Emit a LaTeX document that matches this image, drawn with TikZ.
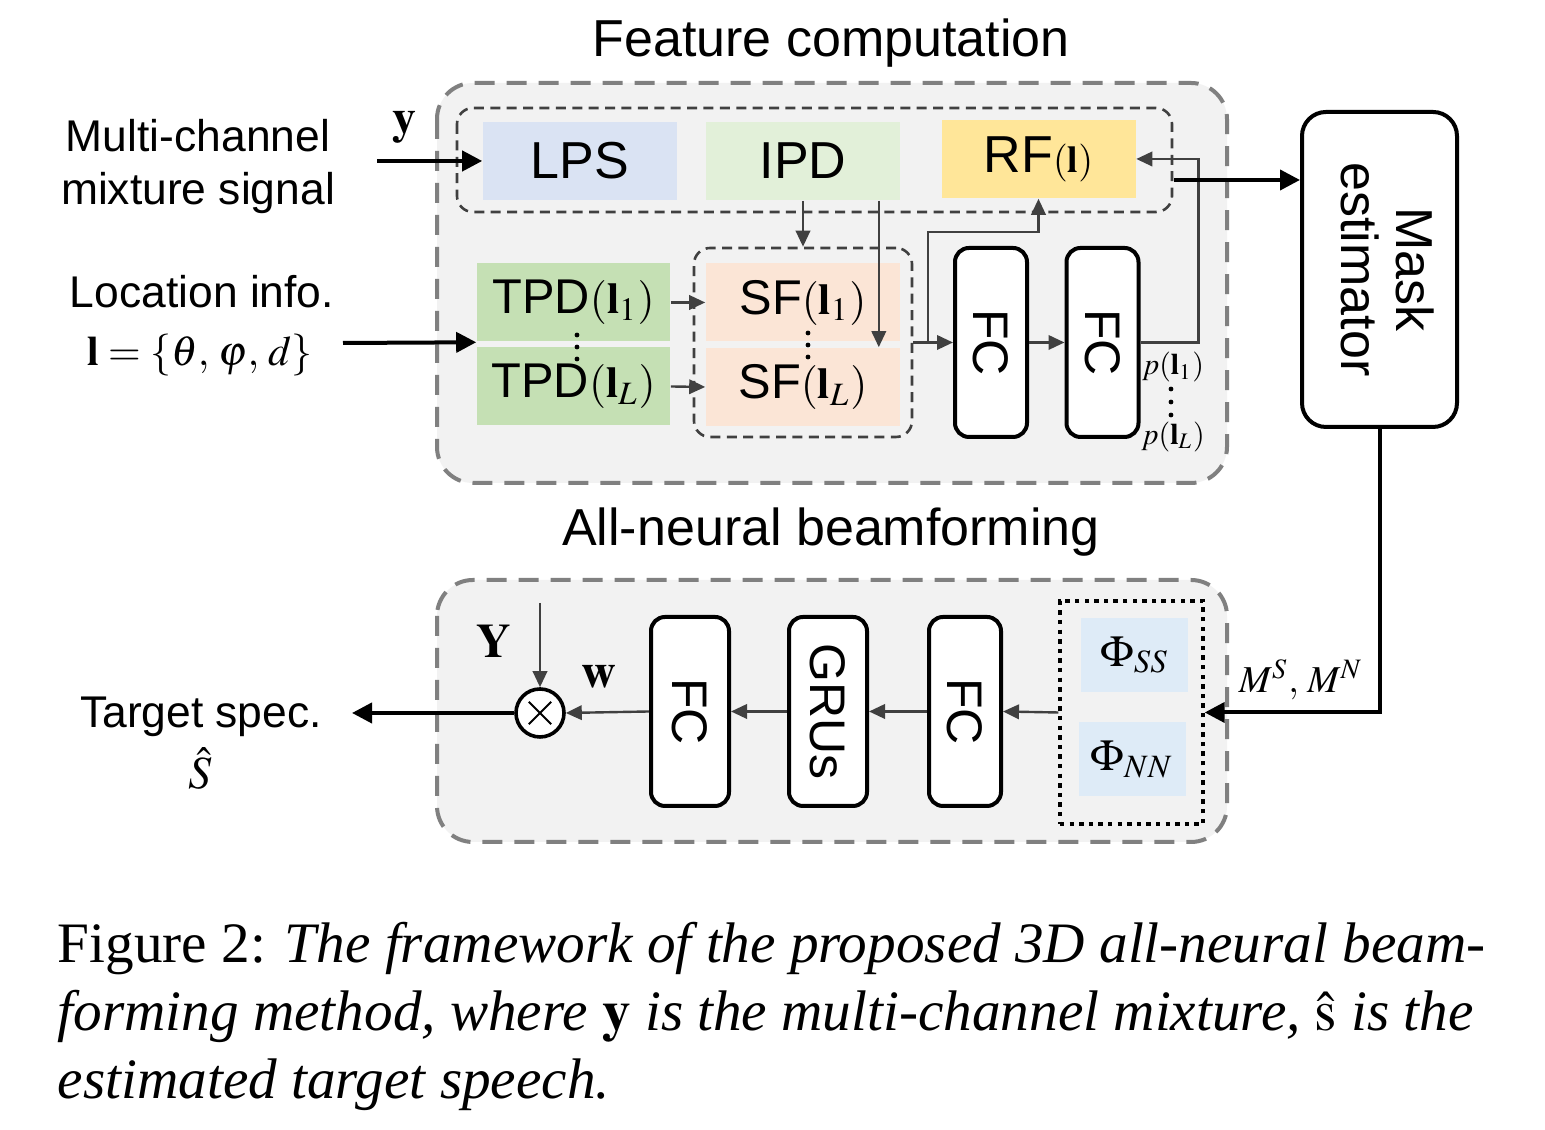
\documentclass[tikz,border=0pt]{standalone}
\usepackage{mathptmx}
\usepackage[no-math]{fontspec}
\setmainfont{Liberation Serif}
\setsansfont{Liberation Sans}
\usetikzlibrary{arrows.meta}
\definecolor{bggray}{HTML}{F2F2F2}
\definecolor{dashgray}{HTML}{808080}
\definecolor{darkline}{HTML}{404040}
\definecolor{lpsblue}{HTML}{DAE3F3}
\definecolor{ipdgreen}{HTML}{E2F0D9}
\definecolor{rfyellow}{HTML}{FFE699}
\definecolor{tpdgreen}{HTML}{C5E0B4}
\definecolor{sforange}{HTML}{FBE5D6}
\definecolor{phiblue}{HTML}{DEEBF7}
\newcommand{\fs}[2]{\fontsize{#1}{#2}\selectfont}
\newcommand{\locarg}[1]{{\fs{11}{13}$(\mathbf{l}_{#1})$}}
\begin{document}
\begin{tikzpicture}[x=0.25pt,y=-0.25pt,
  title/.style={anchor=base,inner sep=0pt,font=\sffamily\fs{13}{15.6}},
  side/.style={anchor=base,inner sep=0pt,font=\sffamily\fs{11.1}{13.3}},
  feat/.style={inner sep=0pt,minimum width=48.5pt,minimum height=19.5pt,font=\sffamily\fs{13}{15.6}},
  loc/.style={inner sep=0pt,minimum width=48.25pt,minimum height=19.5pt,font=\sffamily\fs{12.2}{14.6}},
  netbox/.style={draw=black,line width=1pt,fill=white,rounded corners=3.5pt,inner sep=0pt,minimum width=18pt,minimum height=47.25pt,font=\sffamily\fs{12.5}{15}},
  phibox/.style={fill=phiblue,inner sep=0pt,minimum width=26.75pt,minimum height=18.5pt,font=\fs{11}{13}},
  outerbox/.style={draw=dashgray,fill=bggray,line width=1pt,dash pattern=on 5pt off 3pt,rounded corners=9pt},
  innerbox/.style={draw=darkline,line width=0.65pt,dash pattern=on 2.5pt off 1.6pt,rounded corners=4pt},
  thinarr/.style={draw=darkline,line width=0.6pt,-{Triangle[length=4pt,width=3.6pt]}},
  thickarr/.style={draw=black,line width=1pt,-{Triangle[length=5pt,width=5pt]}},
  mathlbl/.style={inner sep=0pt,font=\fs{12}{14}},
  plbl/.style={inner sep=0pt,font=\fs{7.5}{9}}]
\fill[white] (0,0) rectangle (1545,1130);
\useasboundingbox (0,0) rectangle (1545,1130);
% Drawing frames
\draw[outerbox] (437,83) rectangle (1227,483);
\draw[outerbox] (437,580) rectangle (1227,842);
\draw[innerbox] (457,108) rectangle (1172,212);
\node[innerbox,inner sep=0pt,minimum width=54.5pt,minimum height=47.25pt] (sfbox) at (803,342.5) {};
\node[title] (featitle) at (831,57) {Feature computation};
\node[title] (bftitle) at (831,546) {All-neural beamforming};
% Done with frames; drawing feature blocks
\node[feat,fill=lpsblue] (lps) at (580,161) {LPS};
\node[feat,fill=ipdgreen] (ipd) at (803,161) {IPD};
\node[feat,fill=rfyellow] (rf) at (1038.5,159) {RF{\fs{9.5}{11}$(\mathbf{l})$}};
\node[loc,fill=tpdgreen] (tpd1) at (573.5,302.5) {TPD\locarg{1}};
\node[loc,fill=tpdgreen] (tpdL) at (573.5,386.5) {TPD\locarg{L}};
\node[loc,fill=sforange,minimum width=48.5pt] (sf1) at (803,302.5) {SF\locarg{1}};
\node[loc,fill=sforange,minimum width=48.5pt] (sfL) at (803,387) {SF\locarg{L}};
\fill (577,335) circle (0.6pt) (577,347) circle (0.6pt) (577,359) circle (0.6pt);
\fill (808,333) circle (0.6pt) (808,345) circle (0.6pt) (808,357) circle (0.6pt);
\node[netbox] (fc1) at (991,342.5) {\rotatebox{-90}{FC}};
\node[netbox] (fc2) at (1102.5,342.5) {\rotatebox{-90}{FC}};
\node[plbl] (p1) at (1173,367) {$p(\mathbf{l}_1)$};
\node[plbl] (pL) at (1173,437) {$p(\mathbf{l}_L)$};
\fill (1171,389) circle (0.6pt) (1171,402) circle (0.6pt) (1171,415) circle (0.6pt);
\node[draw=black,line width=1pt,fill=white,rounded corners=6pt,inner sep=0pt,minimum width=38.75pt,minimum height=78.75pt,font=\sffamily\fs{13}{13.75}] (mask) at (1379.5,269.5) {\rotatebox{-90}{\begin{tabular}{@{}c@{}}Mask\\estimator\end{tabular}}};
% Done with feature blocks; drawing inputs
\node[side] (mcl1) at (198,152) {Multi-channel};
\node[side] (mcl2) at (198,205) {mixture signal};
\node[side] (locl1) at (202,308) {Location info.};
\node[anchor=base,inner sep=0pt,font=\fs{10.5}{12.5}] (locl2) at (200,366) {$\mathbf{l}=\{\theta,\,\varphi,\,d\}$};
\node[mathlbl] (ylbl) at (404,127) {$\mathbf{y}$};
\coordinate (yin) at (377,161);
\coordinate (locin) at (343,343);
\draw[thickarr] (yin) -- (lps.west);
\draw[thickarr] (locin) -- (tpd1.south west);
% Done with inputs; drawing feature connections
\draw[thinarr] (tpd1.east) -- (sf1.west);
\draw[thinarr] (tpdL.east) -- (sfL.west);
\draw[thinarr] (ipd.south) -- (ipd.south |- sfbox.north);
\draw[thinarr] ([xshift=-5.5pt]ipd.south east) -- ([xshift=-5.5pt]sfL.north east);
\draw[thinarr] (sfbox.east) -- (fc1.west);
\coordinate (brk) at (928,342.5);
\draw[thinarr] (brk) |- ([yshift=-8.25pt]rf.south) -- (rf.south);
\draw[thinarr] (fc1.east) -- (fc2.west);
\draw[thinarr] (fc2.east) -- ++(14.5pt,0) |- (rf.east);
\coordinate (rfout) at (1174,180);
\draw[thickarr] (rfout) -- (rfout -| mask.west);
% Done with feature connections; drawing beamforming blocks
\node[draw=black,line width=0.85pt,dash pattern=on 1.1pt off 1.3pt,inner sep=0pt,minimum width=35.75pt,minimum height=55.75pt] (phi) at (1131.5,712.5) {};
\node[phibox] (phiss) at (1134.5,655) {$\Phi_{SS}$};
\node[phibox] (phinn) at (1132,759.5) {$\Phi_{NN}$};
\node[netbox] (fc4) at (965,711.5) {\rotatebox{-90}{FC}};
\node[netbox,minimum width=19.5pt] (grus) at (828,711.5) {\rotatebox{-90}{GRUs}};
\node[netbox,minimum width=19.5pt] (fc3) at (690,711.5) {\rotatebox{-90}{FC}};
\node[circle,draw=black,line width=0.9pt,fill=white,inner sep=0pt,minimum size=12pt] (mult) at (540,713) {};
\draw[line width=0.5pt] ([shift={(-2.8pt,-2.8pt)}]mult.center) -- ([shift={(2.8pt,2.8pt)}]mult.center);
\draw[line width=0.5pt] ([shift={(-2.8pt,2.8pt)}]mult.center) -- ([shift={(2.8pt,-2.8pt)}]mult.center);
\node[mathlbl] (Ylbl) at (494,641) {$\mathbf{Y}$};
\node[mathlbl] (wlbl) at (599,677) {$\mathbf{w}$};
\node[inner sep=0pt,font=\fs{9.5}{11}] (mlbl) at (1301,680) {$M^S,\,M^N$};
\node[side] (tgt1) at (201,728) {Target spec.};
\node[anchor=base,inner sep=0pt,font=\fs{11.5}{13.5}] (tgt2) at (200,789) {$\hat{S}$};
% Done with beamforming blocks; drawing beamforming connections
\coordinate (Yin) at (540,603);
\draw[thinarr] (Yin) -- (mult.north);
\draw[thickarr] (mask.south) |- (phi.east);
\draw[thinarr] (phi.west) -- (fc4.east);
\draw[thinarr] (fc4.west) -- (grus.east);
\draw[thinarr] (grus.west) -- (fc3.east);
\draw[thinarr] (fc3.west) -- (mult.east);
\coordinate (sout) at (352,713);
\draw[thickarr] (mult.west) -- (sout);
% Done with connections; drawing caption
\node[anchor=north west,align=left,inner sep=0pt,font=\fs{14.3}{17.1}] (cap) at (57,921) {Figure 2: \textit{The framework of the proposed 3D all-neural beam-}\\
\textit{forming method, where} $\mathbf{y}$ \textit{is the multi-channel mixture,} $\hat{\mathrm{s}}$ \textit{is the}\\
\textit{estimated target speech.}};
\end{tikzpicture}
\end{document}
